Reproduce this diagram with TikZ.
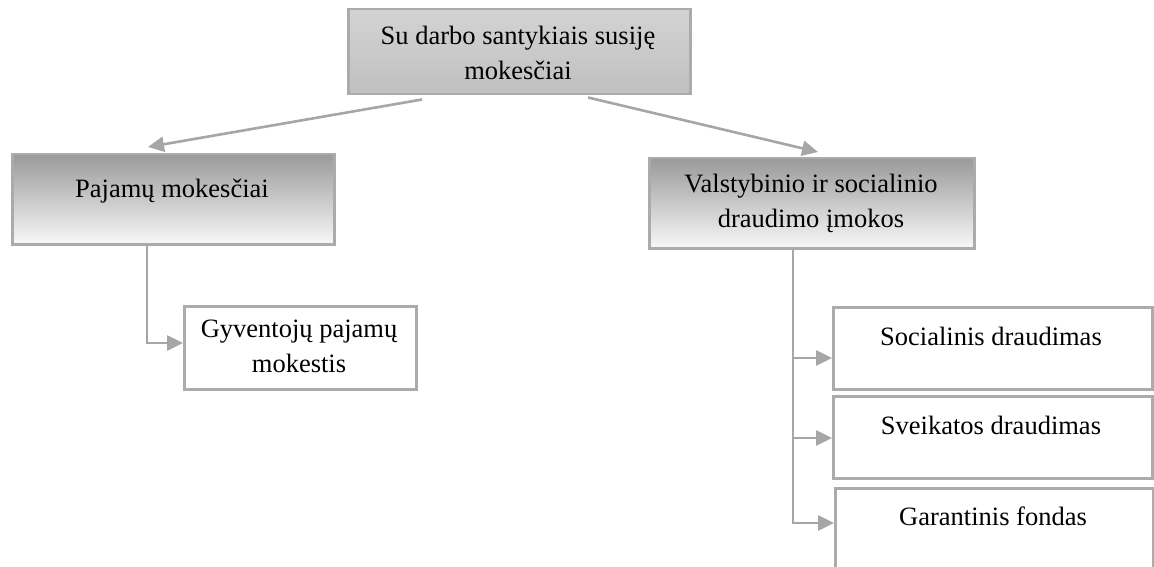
\documentclass[tikz,border=0pt]{standalone}
\usepackage{fontspec}
\setmainfont{Liberation Serif}
\usetikzlibrary{arrows.meta,calc}
\definecolor{ln}{HTML}{A6A6A6}
\definecolor{bx}{HTML}{ABABAB}
\definecolor{topA}{HTML}{D3D3D3}
\definecolor{topB}{HTML}{C0C0C0}
\definecolor{grA}{HTML}{9A9A9A}
\definecolor{grB}{HTML}{F8F8F8}
\begin{document}
\begin{tikzpicture}[x=1pt,y=-1pt,
  box/.style={draw=bx,line width=2.5pt,anchor=north west,inner sep=0pt},
  grad/.style={box,top color=grA,bottom color=grB},
  topbox/.style={box,top color=topA,bottom color=topB},
  txt/.style={font=\fontsize{26.5}{35}\selectfont,align=center,inner sep=0pt,text=black},
  conn/.style={draw=ln,line width=2.6pt,-{Triangle[length=16pt,width=15pt]}},
  line/.style={draw=ln,line width=2.6pt}]
\useasboundingbox (0,0) rectangle (1154,567);
\clip (0,0) rectangle (1154,567);
% boxes
\node[topbox,minimum width=342pt,minimum height=85pt] (top) at (347,8) {};
\node[grad,minimum width=322pt,minimum height=90pt] (paj) at (11,153) {};
\node[grad,minimum width=325pt,minimum height=90pt] (val) at (648,157) {};
\node[box,minimum width=232pt,minimum height=83pt] (gyv) at (183,305) {};
\node[box,minimum width=319pt,minimum height=82pt] (soc) at (832,306) {};
\node[box,minimum width=319pt,minimum height=82pt] (sve) at (832,395) {};
\node[box,minimum width=318pt,minimum height=130pt] (gar) at (834,487) {};
% texts
\node[txt] (toptxt) at (518,53) {Su darbo santykiais susiję\\mokesčiai};
\node[txt,anchor=base] (pajtxt) at (172,197) {Pajamų mokesčiai};
\node[txt] (valtxt) at (811,203) {Valstybinio ir socialinio\\draudimo įmokos};
\node[txt] (gyvtxt) at (299,346) {Gyventojų pajamų\\mokestis};
\node[txt,anchor=base] (soctxt) at (991,345) {Socialinis draudimas};
\node[txt,anchor=base] (svetxt) at (991,434) {Sveikatos draudimas};
\node[txt,anchor=base] (gartxt) at (993,525) {Garantinis fondas};
% connectors
\draw[conn] ($(top.south west)+(75,4)$) -- ($(paj.north west)+(137,-6)$);
\draw[conn] ($(top.south west)+(241,2)$) -- ($(val.north west)+(170,-5)$);
\coordinate (pajdown) at ($(paj.south west)+(136,0)$);
\draw[conn] (pajdown) |- ($(gyv.north west)+(0,38)$);
\coordinate (valdown) at ($(val.south west)+(145,0)$);
\coordinate (valend) at ($(gar.north west)+(-42,36)$);
\draw[line] (valdown) -- (valdown |- valend);
\draw[conn] (valdown |- {$(soc.north west)+(0,52)$}) -- ($(soc.north west)+(0,52)$);
\draw[conn] (valdown |- {$(sve.north west)+(0,43)$}) -- ($(sve.north west)+(0,43)$);
\draw[conn] (valend) -- ($(gar.north west)+(0,36)$);
\end{tikzpicture}
\end{document}
